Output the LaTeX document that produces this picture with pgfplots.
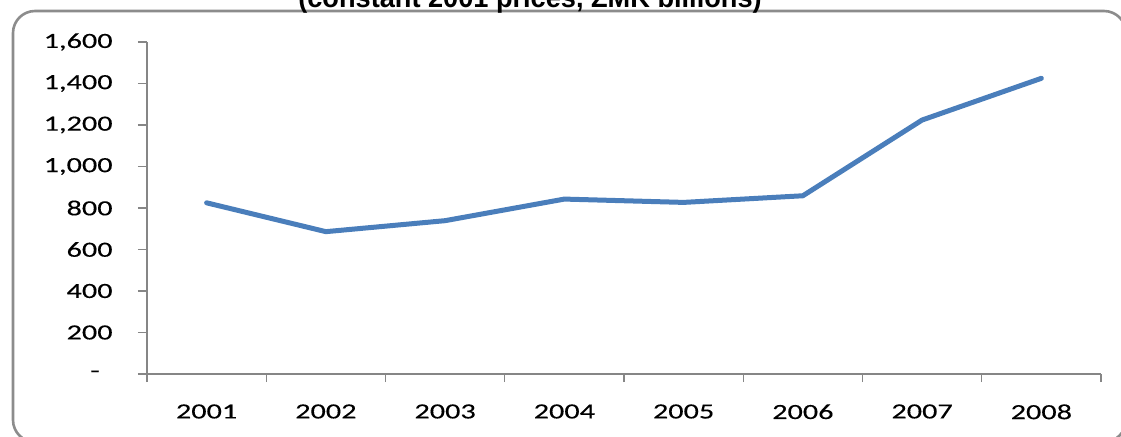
\documentclass[border=0pt]{standalone}
\usepackage{fontspec}
\setmainfont{Carlito}[FakeStretch=1.4, FakeBold=0.3]
\newfontfamily\titlefont{Liberation Sans}[FakeStretch=0.97]
\usepackage{pgfplots}
\pgfplotsset{compat=1.18}
\definecolor{axisgray}{HTML}{868686}
\definecolor{framegray}{HTML}{8C8C8C}
\definecolor{lineblue}{HTML}{4A7EBB}
\begin{document}
\begin{tikzpicture}
\useasboundingbox (0,0) rectangle (560.5pt,218pt);
\clip (0,0) rectangle (560.5pt,218pt);
\draw[framegray, line width=1.3pt, rounded corners=11pt] (6.5pt,212.5pt) rectangle (563pt,-3pt);
\node[anchor=base, inner sep=0pt, font=\titlefont\bfseries\fontsize{14pt}{16pt}\selectfont] at (265pt,214.5pt) {(constant 2001 prices, ZMK billions)};
\begin{axis}[
  at={(73.5pt,31pt)}, anchor=south west,
  scale only axis, width=477pt, height=166pt,
  xmin=0, xmax=8, ymin=0, ymax=1600,
  axis x line=bottom, axis y line=left,
  axis line style={draw=axisgray, line width=0.7pt, -},
  xtick={0.5,1.5,...,7.5},
  xticklabels={2001,2002,2003,2004,2005,2006,2007,2008},
  minor xtick={0,1,...,8},
  major x tick style={draw=none},
  minor x tick style={draw=axisgray, line width=0.7pt},
  minor tick length=4pt,
  ytick={0,200,...,1600},
  yticklabels={{-\rule{6.5pt}{0pt}},200,400,600,800,{1,000},{1,200},{1,400},{1,600}},
  y tick style={draw=axisgray, line width=0.7pt},
  major tick length=4.5pt,
  tick align=outside,
  /pgf/number format/assume math mode=true,
  tick label style={font=\fontsize{10.8pt}{12pt}\selectfont, text=black},
  yticklabel style={anchor=east, inner sep=0pt, xshift=-12.5pt},
  xticklabel style={anchor=north, inner sep=0pt, yshift=-10.5pt},
  clip=false,
]
\addplot[lineblue, line width=2.5pt, line join=round, line cap=round] coordinates {
  (0.5,825) (1.5,686) (2.5,739) (3.5,843) (4.5,827) (5.5,859) (6.5,1224) (7.5,1425)
};
\end{axis}
\end{tikzpicture}
\end{document}
